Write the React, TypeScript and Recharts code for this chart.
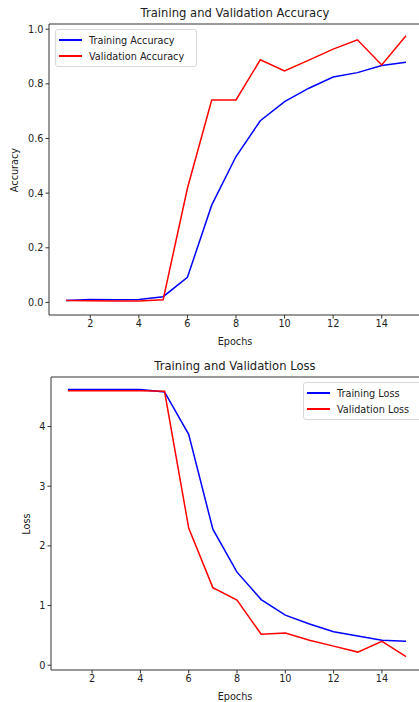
import { LineChart, Line, XAxis, YAxis, ReferenceLine } from 'recharts'

const epochs = [1, 2, 3, 4, 5, 6, 7, 8, 9, 10, 11, 12, 13, 14, 15]
const trainAcc = [0.007, 0.011, 0.010, 0.011, 0.021, 0.092, 0.356, 0.534, 0.665, 0.735, 0.784, 0.825, 0.841, 0.867, 0.879]
const valAcc = [0.007, 0.006, 0.005, 0.005, 0.010, 0.418, 0.741, 0.741, 0.888, 0.847, 0.887, 0.927, 0.961, 0.869, 0.976]
const trainLoss = [4.62, 4.62, 4.62, 4.62, 4.58, 3.87, 2.28, 1.56, 1.10, 0.84, 0.69, 0.56, 0.49, 0.42, 0.40]
const valLoss = [4.60, 4.60, 4.60, 4.60, 4.59, 2.30, 1.30, 1.09, 0.52, 0.54, 0.42, 0.32, 0.22, 0.40, 0.145]
const xTicks = [2, 4, 6, 8, 10, 12, 14]
const accTicks = [0, 0.2, 0.4, 0.6, 0.8, 1.0]
const lossTicks = [0, 1, 2, 3, 4]

const FONT = '"DejaVu Sans", sans-serif'
const SPINE = '#333'
const TXT = '#222'

const accData = epochs.map((e, i) => ({ epoch: e, train: trainAcc[i], val: valAcc[i] }))
const lossData = epochs.map((e, i) => ({ epoch: e, train: trainLoss[i], val: valLoss[i] }))

function MplLegend({ labels, left, top, width }: { labels: string[]; left: number; top: number; width: number }) {
  const colors = ['#0000ff', '#ff0000']
  return (
    <div style={{ position: 'absolute', left, top, width, border: '1px solid #d8d8d8', borderRadius: 3, background: '#fff', padding: '2px 0 2px 3px', fontFamily: FONT, fontSize: 9.7, color: TXT }}>
      {labels.map(l => (
        <div key={l} style={{ display: 'flex', alignItems: 'center', height: 16 }}>
          <div style={{ width: 23, height: 2, background: colors[labels.indexOf(l)], marginRight: 7 }} />
          <span>{l}</span>
        </div>
      ))}
    </div>
  )
}

function Panel(props: {
  data: any[]
  top: number
  H: number
  yDomain: [number, number]
  yTicks: number[]
  yFmt: (v: number) => string
  yWidth: number
  title: string
  yLabel: string
  yLabelX: number
  labels: string[]
  legendPos: { left: number; top: number; width: number }
}) {
  const { data, top, H, yDomain, yTicks, yFmt, yWidth, title, yLabel, yLabelX, labels, legendPos } = props
  return (
    <div style={{ position: 'absolute', left: 0, top, width: 450, height: H + 10 }}>
      <div style={{ position: 'absolute', left: 0, width: 470, top: 6, textAlign: 'center', fontFamily: FONT, fontSize: 11.6, color: TXT }}>{title}</div>
      <LineChart width={450} height={H} data={data} margin={{ top: 24, right: 450 - 423, bottom: 0, left: 0 }}>
        <XAxis dataKey="epoch" type="number" domain={[0.3, 15.7]} ticks={xTicks} interval={0} height={35} tickSize={3.5}
          axisLine={{ stroke: SPINE }} tickLine={{ stroke: SPINE }} tick={{ fill: TXT, fontSize: 9.7, fontFamily: FONT }} />
        <YAxis type="number" domain={yDomain} ticks={yTicks} interval={0} width={yWidth} tickSize={3.5} tickFormatter={yFmt}
          axisLine={{ stroke: SPINE }} tickLine={{ stroke: SPINE }} tick={{ fill: TXT, fontSize: 9.7, fontFamily: FONT }} allowDataOverflow />
        <ReferenceLine y={yDomain[1]} stroke={SPINE} ifOverflow="visible" />
        <Line dataKey="train" stroke="#0000ff" strokeWidth={1.5} dot={false} isAnimationActive={false} />
        <Line dataKey="val" stroke="#ff0000" strokeWidth={1.5} dot={false} isAnimationActive={false} />
      </LineChart>
      <MplLegend labels={labels} {...legendPos} />
      <div style={{ position: 'absolute', left: 185, width: 100, top: H - 14, textAlign: 'center', fontFamily: FONT, fontSize: 9.7, color: TXT }}>Epochs</div>
      <div style={{ position: 'absolute', left: yLabelX - 50, width: 100, top: 24 + (H - 59) / 2 - 6, textAlign: 'center', transform: 'rotate(-90deg)', fontFamily: FONT, fontSize: 9.7, color: TXT, lineHeight: '12px' }}>{yLabel}</div>
    </div>
  )
}

export default function App() {
  return (
    <div style={{ position: 'absolute', left: 0, top: 0, width: 419, height: 702, overflow: 'hidden', background: '#fff' }}>
      <Panel data={accData} top={0} H={350} yDomain={[-0.046, 1.019]} yTicks={accTicks} yFmt={v => v.toFixed(1)} yWidth={49}
        title="Training and Validation Accuracy" yLabel="Accuracy" yLabelX={15}
        labels={['Training Accuracy', 'Validation Accuracy']} legendPos={{ left: 55, top: 29, width: 137 }} />
      <Panel data={lossData} top={353} H={352} yDomain={[-0.08, 4.83]} yTicks={lossTicks} yFmt={v => String(v)} yWidth={51}
        title="Training and Validation Loss" yLabel="Loss" yLabelX={27}
        labels={['Training Loss', 'Validation Loss']} legendPos={{ left: 303, top: 29, width: 130 }} />
    </div>
  )
}
